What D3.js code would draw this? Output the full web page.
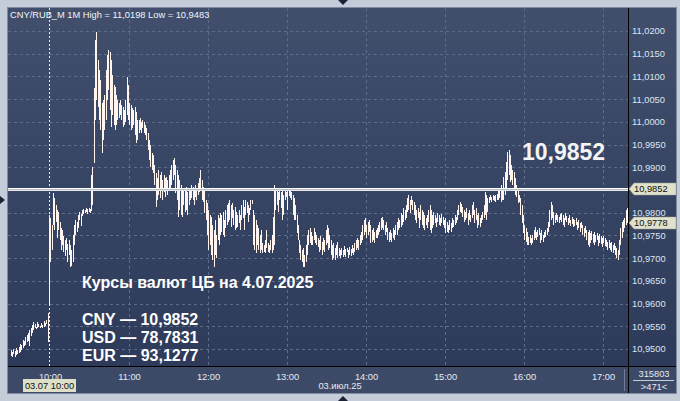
<!DOCTYPE html>
<html><head><meta charset="utf-8">
<script src="https://cdn.jsdelivr.net/npm/d3@7"></script>
<style>html,body{margin:0;padding:0;background:#c3ccd8;}svg{display:block;font-family:"Liberation Sans",Arial,sans-serif;}</style>
</head><body>
<svg id="chart" width="680" height="401"></svg>
<script>
// ---------- DATA ----------
const symbolTitle = "CNY/RUB_M 1M High = 11,0198 Low = 10,9483";
const yTicks = [10.95,10.955,10.96,10.965,10.97,10.975,10.98,10.985,10.99,10.995,11.0,11.005,11.01,11.015,11.02];
const hourIndex = [29,89,149,209,269,329,389,449];
const hourLabels = ["10:00","11:00","12:00","13:00","14:00","15:00","16:00","17:00"];
const cbRate = 10.9852;
const lastClose = 10.9778;
const infoTitle = "Курсы валют ЦБ на 4.07.2025";
const infoLines = ["CNY — 10,9852","USD — 78,7831","EUR — 93,1277"];
const highs = [
10.9497,10.9493,10.9500,10.9495,10.9502,10.9497,10.9504,10.9510,10.9508,10.9519,
10.9517,10.9526,10.9530,10.9535,10.9541,10.9546,10.9552,10.9559,10.9555,10.9548,
10.9559,10.9555,10.9550,10.9557,10.9552,10.9561,10.9557,10.9563,10.9579,
10.9794,10.9788,10.9772,10.9843,10.9832,10.9816,10.9806,10.9801,10.9779,10.9766,
10.9761,10.9748,10.9739,10.9744,10.9731,10.9739,10.9728,10.9717,10.9750,10.9772,
10.9783,10.9779,10.9794,10.9801,10.9797,10.9806,10.9808,10.9806,10.9810,10.9808,
10.9810,10.9808,10.9883,10.9900,11.0074,11.0180,11.0198,11.0136,11.0114,11.0092,
11.0041,11.0048,11.0059,11.0114,11.0147,11.0158,11.0153,11.0136,11.0103,11.0081,
11.0076,11.0059,11.0048,11.0041,11.0048,11.0037,11.0032,11.0026,11.0048,11.0098,
11.0081,11.0041,11.0037,11.0030,11.0026,11.0032,11.0021,11.0004,11.0004,11.0008,
10.9999,11.0004,10.9999,10.9993,10.9986,10.9975,10.9960,10.9949,10.9931,10.9927,
10.9905,10.9887,10.9876,10.9894,10.9883,10.9889,10.9872,10.9883,10.9876,10.9878,
10.9872,10.9883,10.9894,10.9905,10.9916,10.9920,10.9905,10.9894,10.9883,10.9872,
10.9861,10.9850,10.9854,10.9850,10.9856,10.9845,10.9850,10.9854,10.9861,10.9856,
10.9850,10.9861,10.9854,10.9865,10.9876,10.9894,10.9872,10.9856,10.9850,10.9828,
10.9821,10.9806,10.9794,10.9790,10.9772,10.9761,10.9783,10.9750,10.9794,10.9788,
10.9799,10.9794,10.9801,10.9783,10.9806,10.9816,10.9821,10.9828,10.9816,10.9821,
10.9806,10.9812,10.9801,10.9794,10.9806,10.9794,10.9816,10.9828,10.9812,10.9828,
10.9823,10.9816,10.9810,10.9828,10.9828,10.9806,10.9794,10.9783,10.9772,10.9766,
10.9750,10.9761,10.9733,10.9728,10.9739,10.9761,10.9733,10.9728,10.9739,10.9750,
10.9790,10.9861,10.9854,10.9850,10.9845,10.9850,10.9845,10.9850,10.9839,10.9850,
10.9845,10.9850,10.9847,10.9850,10.9845,10.9839,10.9832,10.9816,10.9794,10.9772,
10.9739,10.9728,10.9717,10.9722,10.9706,10.9728,10.9750,10.9761,10.9766,10.9757,
10.9748,10.9766,10.9757,10.9750,10.9744,10.9739,10.9748,10.9735,10.9744,10.9739,
10.9761,10.9772,10.9766,10.9750,10.9739,10.9728,10.9733,10.9722,10.9728,10.9735,
10.9722,10.9717,10.9722,10.9717,10.9726,10.9720,10.9722,10.9717,10.9724,10.9720,
10.9728,10.9722,10.9733,10.9739,10.9744,10.9739,10.9750,10.9757,10.9772,10.9783,
10.9788,10.9772,10.9779,10.9783,10.9772,10.9761,10.9766,10.9757,10.9761,10.9766,
10.9772,10.9779,10.9788,10.9790,10.9783,10.9772,10.9779,10.9766,10.9757,10.9761,
10.9755,10.9766,10.9761,10.9772,10.9779,10.9788,10.9783,10.9799,10.9794,10.9810,
10.9806,10.9816,10.9832,10.9839,10.9828,10.9836,10.9828,10.9823,10.9816,10.9806,
10.9810,10.9801,10.9816,10.9806,10.9801,10.9794,10.9788,10.9794,10.9806,10.9816,
10.9806,10.9794,10.9801,10.9794,10.9788,10.9799,10.9794,10.9788,10.9797,10.9790,
10.9783,10.9788,10.9779,10.9772,10.9783,10.9777,10.9788,10.9783,10.9794,10.9790,
10.9806,10.9816,10.9823,10.9819,10.9812,10.9806,10.9801,10.9810,10.9799,10.9806,
10.9794,10.9816,10.9823,10.9806,10.9810,10.9794,10.9799,10.9788,10.9794,10.9801,
10.9816,10.9845,10.9839,10.9832,10.9834,10.9839,10.9834,10.9839,10.9836,10.9839,
10.9841,10.9850,10.9854,10.9861,10.9850,10.9878,10.9889,10.9911,10.9933,10.9938,
10.9927,10.9905,10.9894,10.9889,10.9876,10.9861,10.9850,10.9839,10.9832,10.9816,
10.9794,10.9772,10.9766,10.9757,10.9746,10.9750,10.9744,10.9750,10.9761,10.9768,
10.9757,10.9761,10.9766,10.9755,10.9761,10.9750,10.9757,10.9761,10.9766,10.9779,
10.9806,10.9823,10.9816,10.9801,10.9794,10.9799,10.9794,10.9790,10.9797,10.9799,
10.9794,10.9788,10.9799,10.9792,10.9788,10.9794,10.9783,10.9790,10.9786,10.9783,
10.9788,10.9779,10.9783,10.9777,10.9779,10.9772,10.9766,10.9770,10.9761,10.9757,
10.9761,10.9755,10.9759,10.9753,10.9757,10.9750,10.9755,10.9748,10.9753,10.9748,
10.9744,10.9748,10.9744,10.9739,10.9735,10.9739,10.9733,10.9735,10.9728,10.9733,
10.9726,10.9722,10.9717,10.9739,10.9766,10.9779,10.9783,10.9788,10.9806,10.9810
];
const lows = [
10.9484,10.9483,10.9489,10.9483,10.9486,10.9489,10.9491,10.9493,10.9497,10.9502,
10.9506,10.9508,10.9515,10.9517,10.9506,10.9528,10.9535,10.9541,10.9546,10.9544,
10.9546,10.9548,10.9546,10.9548,10.9546,10.9548,10.9550,10.9555,10.9515,
10.9596,10.9691,10.9717,10.9772,10.9761,10.9779,10.9744,10.9761,10.9739,10.9717,
10.9728,10.9713,10.9704,10.9717,10.9691,10.9706,10.9680,10.9682,10.9691,10.9728,
10.9750,10.9757,10.9766,10.9783,10.9770,10.9792,10.9797,10.9799,10.9801,10.9797,
10.9801,10.9799,10.9803,10.9816,10.9909,11.0004,11.0048,11.0032,11.0004,10.9982,
10.9931,10.9960,10.9982,11.0004,11.0048,11.0070,11.0026,10.9988,11.0015,10.9993,
10.9982,10.9993,11.0004,11.0008,11.0015,11.0004,10.9988,10.9993,10.9999,11.0015,
11.0004,10.9993,10.9982,10.9986,10.9993,10.9971,10.9953,10.9960,10.9975,10.9982,
10.9975,10.9986,10.9975,10.9971,10.9960,10.9938,10.9916,10.9900,10.9894,10.9887,
10.9861,10.9812,10.9828,10.9839,10.9832,10.9850,10.9828,10.9845,10.9834,10.9850,
10.9839,10.9854,10.9850,10.9861,10.9872,10.9883,10.9843,10.9828,10.9790,10.9806,
10.9794,10.9790,10.9816,10.9801,10.9806,10.9794,10.9816,10.9828,10.9832,10.9828,
10.9816,10.9834,10.9828,10.9839,10.9845,10.9850,10.9828,10.9823,10.9799,10.9783,
10.9750,10.9717,10.9728,10.9706,10.9695,10.9680,10.9706,10.9700,10.9739,10.9728,
10.9750,10.9757,10.9750,10.9746,10.9766,10.9772,10.9779,10.9783,10.9768,10.9788,
10.9772,10.9761,10.9766,10.9768,10.9777,10.9761,10.9783,10.9788,10.9761,10.9794,
10.9799,10.9779,10.9794,10.9806,10.9819,10.9728,10.9717,10.9711,10.9728,10.9717,
10.9711,10.9717,10.9711,10.9713,10.9711,10.9722,10.9713,10.9711,10.9717,10.9711,
10.9717,10.9728,10.9806,10.9816,10.9801,10.9828,10.9810,10.9783,10.9794,10.9828,
10.9834,10.9806,10.9836,10.9832,10.9828,10.9794,10.9783,10.9783,10.9755,10.9739,
10.9711,10.9695,10.9691,10.9680,10.9680,10.9691,10.9706,10.9728,10.9733,10.9728,
10.9728,10.9739,10.9733,10.9728,10.9724,10.9713,10.9717,10.9706,10.9717,10.9713,
10.9728,10.9733,10.9717,10.9722,10.9706,10.9695,10.9700,10.9695,10.9706,10.9700,
10.9704,10.9700,10.9706,10.9702,10.9706,10.9702,10.9713,10.9700,10.9706,10.9704,
10.9711,10.9706,10.9713,10.9717,10.9722,10.9717,10.9728,10.9733,10.9739,10.9750,
10.9757,10.9744,10.9750,10.9757,10.9733,10.9735,10.9739,10.9733,10.9744,10.9744,
10.9750,10.9757,10.9761,10.9766,10.9761,10.9750,10.9757,10.9739,10.9735,10.9739,
10.9735,10.9744,10.9739,10.9750,10.9750,10.9761,10.9766,10.9768,10.9772,10.9779,
10.9783,10.9788,10.9801,10.9806,10.9799,10.9816,10.9806,10.9794,10.9783,10.9777,
10.9788,10.9766,10.9783,10.9772,10.9766,10.9761,10.9772,10.9766,10.9779,10.9761,
10.9755,10.9766,10.9772,10.9777,10.9768,10.9779,10.9772,10.9770,10.9777,10.9772,
10.9766,10.9755,10.9757,10.9755,10.9761,10.9757,10.9766,10.9768,10.9772,10.9777,
10.9783,10.9794,10.9801,10.9799,10.9790,10.9779,10.9783,10.9788,10.9772,10.9783,
10.9779,10.9788,10.9794,10.9777,10.9783,10.9766,10.9772,10.9768,10.9777,10.9783,
10.9788,10.9794,10.9783,10.9801,10.9821,10.9828,10.9823,10.9828,10.9825,10.9823,
10.9828,10.9828,10.9832,10.9823,10.9828,10.9828,10.9839,10.9850,10.9872,10.9883,
10.9867,10.9872,10.9861,10.9850,10.9839,10.9834,10.9821,10.9823,10.9794,10.9777,
10.9755,10.9739,10.9735,10.9728,10.9728,10.9733,10.9728,10.9733,10.9739,10.9744,
10.9739,10.9746,10.9750,10.9733,10.9739,10.9735,10.9744,10.9746,10.9750,10.9757,
10.9768,10.9783,10.9788,10.9772,10.9777,10.9783,10.9779,10.9777,10.9783,10.9779,
10.9772,10.9768,10.9783,10.9779,10.9772,10.9777,10.9770,10.9775,10.9768,10.9770,
10.9772,10.9761,10.9766,10.9757,10.9766,10.9750,10.9746,10.9755,10.9739,10.9728,
10.9724,10.9733,10.9739,10.9733,10.9728,10.9735,10.9739,10.9726,10.9733,10.9731,
10.9724,10.9733,10.9726,10.9724,10.9717,10.9722,10.9717,10.9713,10.9711,10.9717,
10.9706,10.9700,10.9695,10.9706,10.9728,10.9744,10.9757,10.9766,10.9772,10.9777
];

// ---------- LAYOUT ----------
const W = 680, H = 401;
const P = {l: 8, t: 8, r: 628, b: 366};
const AX = {r: 676, b: 393};
const fmt = d => d3.format(".4f")(d).replace(".", ",");

const svg = d3.select("#chart");
const defs = svg.append("defs");
const g1 = defs.append("linearGradient").attr("id","bg").attr("x1",0).attr("y1",0).attr("x2",0).attr("y2",1);
g1.append("stop").attr("offset","0%").attr("stop-color","#414f6d");
g1.append("stop").attr("offset","100%").attr("stop-color","#2d3a5a");
defs.append("clipPath").attr("id","clip").append("rect")
  .attr("x",P.l).attr("y",P.t).attr("width",P.r-P.l).attr("height",P.b-P.t);

svg.append("rect").attr("width",W).attr("height",H).attr("fill","#c3ccd8");
svg.append("rect").attr("x",P.l).attr("y",P.t).attr("width",AX.r-P.l).attr("height",P.b-P.t).attr("fill","url(#bg)");
svg.append("rect").attr("x",P.l).attr("y",P.b).attr("width",AX.r-P.l).attr("height",AX.b-P.b).attr("fill","#3c4a68");
svg.append("rect").attr("x",P.l-0.5).attr("y",P.t-0.5).attr("width",AX.r-P.l+1).attr("height",AX.b-P.t+1)
  .attr("fill","none").attr("stroke","#7d8aa0");

const n = Math.min(highs.length, lows.length);
const x = d3.scaleLinear().domain([hourIndex[0], hourIndex[hourIndex.length-1]]).range([50, 603]);
const y = d3.scaleLinear().domain([10.95, 11.02]).range([349, 31]);

// grid
const gy = svg.append("g").attr("transform",`translate(${P.l},0)`)
  .call(d3.axisRight(y).tickValues(yTicks).tickSize(P.r-P.l).tickFormat(""));
gy.select(".domain").remove();
gy.selectAll("line").attr("stroke","#5d6c88").attr("stroke-dasharray","3,3").attr("shape-rendering","crispEdges");

const gx = svg.append("g").attr("transform",`translate(0,${P.t})`)
  .call(d3.axisBottom(x).tickValues(hourIndex.slice(1)).tickSize(P.b-P.t).tickFormat(""));
gx.select(".domain").remove();
gx.selectAll("line").attr("stroke","#5d6c88").attr("stroke-dasharray","3,3").attr("shape-rendering","crispEdges");

// day separator at 10:00
svg.append("line").attr("x1",Math.round(x(hourIndex[0]))-0.5).attr("x2",Math.round(x(hourIndex[0]))-0.5)
  .attr("y1",P.t).attr("y2",P.b).attr("stroke","#e8ecf2").attr("stroke-dasharray","2,2");

// bars
const bars = svg.append("g").attr("clip-path","url(#clip)");
bars.selectAll("rect").data(d3.range(n)).join("rect")
  .attr("x", i => Math.round(x(i)) - 1)
  .attr("width", 1)
  .attr("y", i => Math.round(y(highs[i])))
  .attr("height", i => Math.max(1, Math.round(y(lows[i])) - Math.round(y(highs[i]))))
  .attr("fill","#fff5ee");

// CB rate level line
const yl = Math.round(y(cbRate));
svg.append("rect").attr("x",P.l).attr("y",yl-1).attr("width",P.r-P.l).attr("height",3).attr("fill","#b9bec7");
svg.append("rect").attr("x",P.l).attr("y",yl-1).attr("width",P.r-P.l).attr("height",1).attr("fill","#ffffff");
svg.append("rect").attr("x",P.l).attr("y",yl+1).attr("width",P.r-P.l).attr("height",1).attr("fill","#e8e8e8");

svg.append("text").attr("x",522).attr("y",160).attr("fill","#f4f4f4")
  .attr("font-size","23px").attr("font-weight","bold").text(fmt(cbRate));

// info block
svg.append("text").attr("x",82).attr("y",288).attr("fill","#ffffff").attr("font-size","16px").attr("font-weight","bold").text(infoTitle);
const infoY = [325, 343, 361];
infoLines.forEach((t,k) => svg.append("text").attr("x",82).attr("y",infoY[k]).attr("fill","#ffffff")
  .attr("font-size","16px").attr("font-weight","bold").text(t));

// header
svg.append("text").attr("x",10).attr("y",18).attr("fill","#f2f4f8").attr("font-size","9.3px").text(symbolTitle);

// right axis (labels hidden under the price tags are left out, as in the reference)
const tagVals = [cbRate, lastClose];
const visibleTicks = yTicks.filter(v => tagVals.every(t => Math.abs(y(v) - y(t)) > 9));
const ra = svg.append("g").attr("transform",`translate(${P.r},0)`)
  .call(d3.axisRight(y).tickValues(visibleTicks).tickSize(0).tickPadding(4).tickFormat(fmt));
ra.select(".domain").remove();
ra.selectAll("text").attr("fill","#dfe5ef").attr("font-size","9.3px").attr("font-family","'Liberation Sans',Arial,sans-serif");

function tag(v){
  const cy = Math.round(y(v));
  const g = svg.append("g");
  g.append("path").attr("d",`M${P.r+1},${cy} L${P.r+6},${cy-6} L${AX.r},${cy-6} L${AX.r},${cy+6} L${P.r+6},${cy+6} Z`)
    .attr("fill","#dfe1cb").attr("stroke","#9aa08a").attr("stroke-width",0.5);
  g.append("text").attr("x",P.r+6).attr("y",cy).attr("dy","0.35em").attr("fill","#111")
    .attr("font-size","9.3px").text(fmt(v));
}
tagVals.forEach(tag);

// bottom axis
const ba = svg.append("g").attr("transform",`translate(0,${P.b})`)
  .call(d3.axisBottom(x).tickValues(hourIndex).tickSize(0).tickPadding(7).tickFormat((d,k)=>hourLabels[k]));
ba.select(".domain").remove();
ba.selectAll("text").attr("fill","#e6ebf2").attr("font-size","9.3px").attr("font-family","'Liberation Sans',Arial,sans-serif");

svg.append("rect").attr("x",23).attr("y",379).attr("width",53).attr("height",13).attr("fill","#dedfc8");
svg.append("text").attr("x",49.5).attr("y",389).attr("text-anchor","middle").attr("fill","#111").attr("font-size","9.3px").text("03.07 10:00");
svg.append("text").attr("x",340).attr("y",389).attr("text-anchor","middle").attr("fill","#e6ebf2").attr("font-size","9.3px").text("03.июл.25");

svg.append("line").attr("x1",624.5).attr("x2",624.5).attr("y1",369).attr("y2",391).attr("stroke","#6f7c94");
svg.append("text").attr("x",654).attr("y",377).attr("text-anchor","middle").attr("fill","#e6ebf2").attr("font-size","9.3px").text("315803");
svg.append("line").attr("x1",633).attr("x2",674).attr("y1",380.5).attr("y2",380.5).attr("stroke","#c8ced8");
svg.append("text").attr("x",654).attr("y",390).attr("text-anchor","middle").attr("fill","#e6ebf2").attr("font-size","9.3px").text(">471<");

// frame lines
svg.append("line").attr("x1",P.l).attr("x2",AX.r).attr("y1",P.b+0.5).attr("y2",P.b+0.5).attr("stroke","#000");
svg.append("line").attr("x1",P.r+0.5).attr("x2",P.r+0.5).attr("y1",P.t).attr("y2",AX.b).attr("stroke","#000");

// markers
svg.append("path").attr("d","M338,0 L348,0 L343,5 Z").attr("fill","#1c2335");
svg.append("path").attr("d","M338,401 L348,401 L343,396 Z").attr("fill","#1c2335");
svg.append("path").attr("d","M0,196 L5,200 L0,204 Z").attr("fill","#1c2335");
</script>
</body></html>
